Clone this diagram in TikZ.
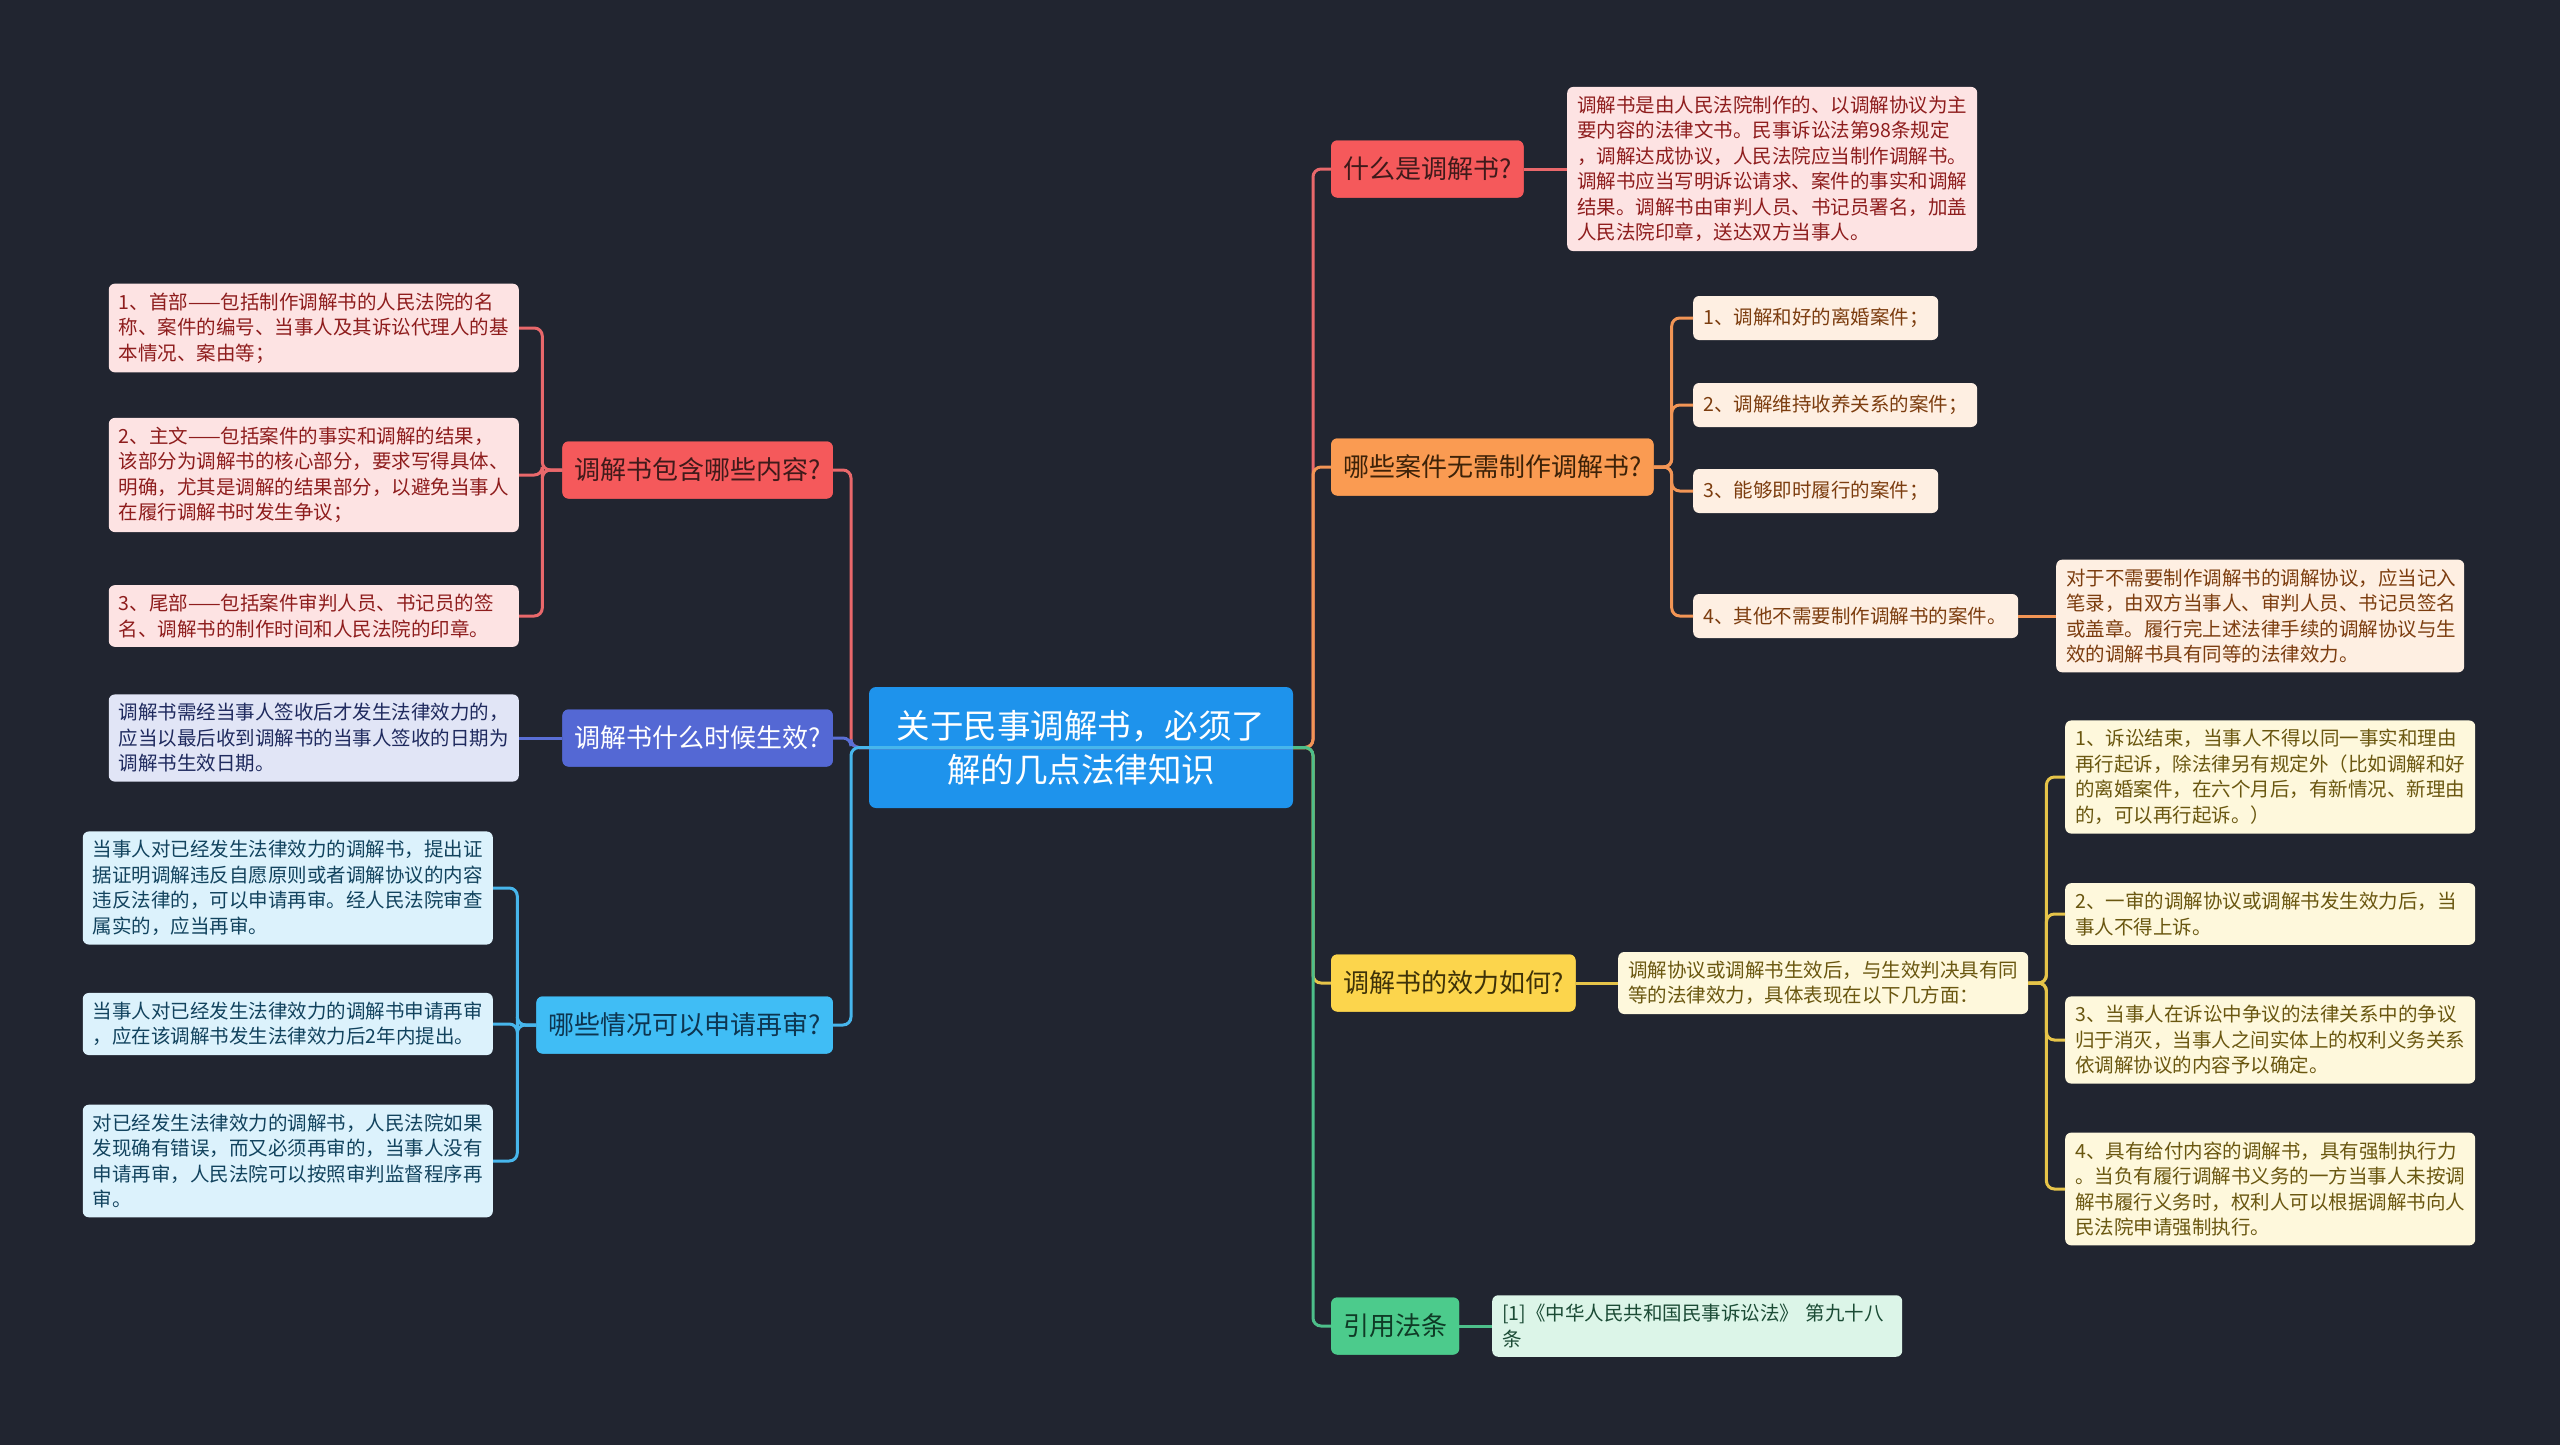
\documentclass[tikz,border=0pt]{standalone}
\usepackage{fontspec}
\setmainfont{Noto Sans CJK SC}
\definecolor{bgc}{HTML}{212530}
\definecolor{rootF}{HTML}{1E93EC}
\definecolor{redF}{HTML}{F5595B}
\definecolor{redT}{HTML}{3F1A1A}
\definecolor{redL}{HTML}{FDE3E3}
\definecolor{redD}{HTML}{8E1D1D}
\definecolor{redLn}{HTML}{E9686B}
\definecolor{orF}{HTML}{FA9B52}
\definecolor{orT}{HTML}{3D2208}
\definecolor{orL}{HTML}{FEEFE2}
\definecolor{orD}{HTML}{7C3D0F}
\definecolor{orLn}{HTML}{F29555}
\definecolor{yeF}{HTML}{FCD54C}
\definecolor{yeT}{HTML}{3E3208}
\definecolor{yeL}{HTML}{FEF8DC}
\definecolor{yeD}{HTML}{6A5710}
\definecolor{yeLn}{HTML}{E6C449}
\definecolor{grF}{HTML}{4CCB8C}
\definecolor{grT}{HTML}{0F3B26}
\definecolor{grL}{HTML}{DCF5E8}
\definecolor{grD}{HTML}{1B4B35}
\definecolor{grLn}{HTML}{4DBF8A}
\definecolor{puF}{HTML}{5468D4}
\definecolor{puL}{HTML}{E1E5F6}
\definecolor{puD}{HTML}{1F2A5E}
\definecolor{puLn}{HTML}{5A6FD6}
\definecolor{lbF}{HTML}{40BDF5}
\definecolor{lbT}{HTML}{0D3550}
\definecolor{lbL}{HTML}{DCF2FC}
\definecolor{lbD}{HTML}{12435E}
\definecolor{lbLn}{HTML}{47B6EC}
\begin{document}
\begin{tikzpicture}[x=1pt,y=-1pt,
  conn/.style={line width=3pt, rounded corners=8pt},
  leaf/.style={rounded corners=6pt, inner xsep=10pt, inner ysep=9pt,
    font=\fontsize{19.5}{25.5}\selectfont, text width=#1, align=left},
  leaf/.default=390pt,
  short/.style={leaf=#1, minimum height=44pt},
  main/.style={rounded corners=6pt, inner xsep=12pt, minimum height=57pt,
    font=\fontsize{26}{30}\selectfont},
  rootbox/.style={rounded corners=7pt, fill=rootF, text=white, text width=400pt,
    align=center, minimum width=424pt, minimum height=121pt,
    font=\fontsize{33.5}{44}\selectfont},
]
\fill[bgc] (0,0) rectangle (2560,1445);
\useasboundingbox (0,0) rectangle (2560,1445);

% root
\node[rootbox] (root) at (1081,747.5) {关于民事调解书，必须了\\解的几点法律知识};

% right level 1
\node[main, fill=redF, text=redT, anchor=west] (r1) at (1331,169) {什么是调解书?};
\node[main, fill=orF, text=orT, anchor=west] (r2) at (1331,467) {哪些案件无需制作调解书?};
\node[main, fill=yeF, text=yeT, anchor=west] (r3) at (1331,983) {调解书的效力如何?};
\node[main, fill=grF, text=grT, anchor=west] (r4) at (1331,1326) {引用法条};

% left level 1
\node[main, fill=redF, text=redT, anchor=east] (l1) at (833,470) {调解书包含哪些内容?};
\node[main, fill=puF, text=white, anchor=east] (l2) at (833,738) {调解书什么时候生效?};
\node[main, fill=lbF, text=lbT, anchor=east] (l3) at (833,1025) {哪些情况可以申请再审?};

\coordinate (rs) at (1313,747.5);
\coordinate (ls) at (851,747.5);

% connectors from root
\draw[conn, redLn] (root.east) -- (ls) |- (l1.east);
\draw[conn, puLn] (root.east) -- (ls) |- (l2.east);
\draw[conn, lbLn] (root.east) -- (ls) |- (l3.east);
\draw[conn, redLn] (root.east) -- (rs) |- (r1.west);
\draw[conn, orLn] (root.east) -- (rs) |- (r2.west);
\draw[conn, yeLn] (root.east) -- (rs) |- (r3.west);
\draw[conn, grLn] (root.east) -- (rs) |- (r4.west);

% redraw level 1 nodes on top of connector ends
\node[main, fill=redF, text=redT, anchor=west] at (1331,169) {什么是调解书?};
\node[main, fill=orF, text=orT, anchor=west] at (1331,467) {哪些案件无需制作调解书?};
\node[main, fill=yeF, text=yeT, anchor=west] at (1331,983) {调解书的效力如何?};
\node[main, fill=grF, text=grT, anchor=west] at (1331,1326) {引用法条};
\node[main, fill=redF, text=redT, anchor=east] at (833,470) {调解书包含哪些内容?};
\node[main, fill=puF, text=white, anchor=east] at (833,738) {调解书什么时候生效?};
\node[main, fill=lbF, text=lbT, anchor=east] at (833,1025) {哪些情况可以申请再审?};

% right leaves
\node[leaf, fill=redL, text=redD, anchor=west] (r1a) at (1567,169) {调解书是由人民法院制作的、以调解协议为主\\要内容的法律文书。民事诉讼法第98条规定\\，调解达成协议，人民法院应当制作调解书。\\调解书应当写明诉讼请求、案件的事实和调解\\结果。调解书由审判人员、书记员署名，加盖\\人民法院印章，送达双方当事人。};

\node[short=225pt, fill=orL, text=orD, anchor=west] (r2a) at (1693,318) {1、调解和好的离婚案件；};
\node[short=264pt, fill=orL, text=orD, anchor=west] (r2b) at (1693,405) {2、调解维持收养关系的案件；};
\node[short=225pt, fill=orL, text=orD, anchor=west] (r2c) at (1693,491) {3、能够即时履行的案件；};
\node[short=305pt, fill=orL, text=orD, anchor=west] (r2d) at (1693,616) {4、其他不需要制作调解书的案件。};
\node[leaf=388pt, fill=orL, text=orD, anchor=west] (r2e) at (2056,616) {对于不需要制作调解书的调解协议，应当记入\\笔录，由双方当事人、审判人员、书记员签名\\或盖章。履行完上述法律手续的调解协议与生\\效的调解书具有同等的法律效力。};

\node[leaf, fill=yeL, text=yeD, anchor=west] (r3m) at (1618,983) {调解协议或调解书生效后，与生效判决具有同\\等的法律效力，具体表现在以下几方面：};
\node[leaf, fill=yeL, text=yeD, anchor=west] (r3a) at (2065,777) {1、诉讼结束，当事人不得以同一事实和理由\\再行起诉，除法律另有规定外（比如调解和好\\的离婚案件，在六个月后，有新情况、新理由\\的，可以再行起诉。）};
\node[leaf, fill=yeL, text=yeD, anchor=west] (r3b) at (2065,914) {2、一审的调解协议或调解书发生效力后，当\\事人不得上诉。};
\node[leaf, fill=yeL, text=yeD, anchor=west] (r3c) at (2065,1040) {3、当事人在诉讼中争议的法律关系中的争议\\归于消灭，当事人之间实体上的权利义务关系\\依调解协议的内容予以确定。};
\node[leaf, fill=yeL, text=yeD, anchor=west] (r3d) at (2065,1189) {4、具有给付内容的调解书，具有强制执行力\\。当负有履行调解书义务的一方当事人未按调\\解书履行义务时，权利人可以根据调解书向人\\民法院申请强制执行。};

\node[leaf, fill=grL, text=grD, anchor=west] (r4a) at (1492,1326) {[1]《中华人民共和国民事诉讼法》 第九十八\\条};

% left leaves
\node[leaf, fill=redL, text=redD, anchor=east] (l1a) at (519,328) {1、首部——包括制作调解书的人民法院的名\\称、案件的编号、当事人及其诉讼代理人的基\\本情况、案由等；};
\node[leaf, fill=redL, text=redD, anchor=east] (l1b) at (519,475) {2、主文——包括案件的事实和调解的结果，\\该部分为调解书的核心部分，要求写得具体、\\明确，尤其是调解的结果部分，以避免当事人\\在履行调解书时发生争议；};
\node[leaf, fill=redL, text=redD, anchor=east] (l1c) at (519,616) {3、尾部——包括案件审判人员、书记员的签\\名、调解书的制作时间和人民法院的印章。};

\node[leaf, fill=puL, text=puD, anchor=east] (l2a) at (519,738) {调解书需经当事人签收后才发生法律效力的，\\应当以最后收到调解书的当事人签收的日期为\\调解书生效日期。};

\node[leaf, fill=lbL, text=lbD, anchor=east] (l3a) at (493,888) {当事人对已经发生法律效力的调解书，提出证\\据证明调解违反自愿原则或者调解协议的内容\\违反法律的，可以申请再审。经人民法院审查\\属实的，应当再审。};
\node[leaf, fill=lbL, text=lbD, anchor=east] (l3b) at (493,1024) {当事人对已经发生法律效力的调解书申请再审\\，应在该调解书发生法律效力后2年内提出。};
\node[leaf, fill=lbL, text=lbD, anchor=east] (l3c) at (493,1161) {对已经发生法律效力的调解书，人民法院如果\\发现确有错误，而又必须再审的，当事人没有\\申请再审，人民法院可以按照审判监督程序再\\审。};

% level 2 connectors
\draw[conn, redLn] (r1.east) -- (r1a.west);
\draw[conn, orLn] (r2.east) -- ++(18,0) |- (r2a.west);
\draw[conn, orLn] (r2.east) -- ++(18,0) |- (r2b.west);
\draw[conn, orLn] (r2.east) -- ++(18,0) |- (r2c.west);
\draw[conn, orLn] (r2.east) -- ++(18,0) |- (r2d.west);
\draw[conn, orLn] (r2d.east) -- (r2e.west);
\draw[conn, yeLn] (r3.east) -- (r3m.west);
\draw[conn, yeLn] (r3m.east) -- ++(18,0) |- (r3a.west);
\draw[conn, yeLn] (r3m.east) -- ++(18,0) |- (r3b.west);
\draw[conn, yeLn] (r3m.east) -- ++(18,0) |- (r3c.west);
\draw[conn, yeLn] (r3m.east) -- ++(18,0) |- (r3d.west);
\draw[conn, grLn] (r4.east) -- (r4a.west);

\draw[conn, redLn] (l1.west) -- ++(-20,0) |- (l1a.east);
\draw[conn, redLn] (l1.west) -- ++(-20,0) |- (l1b.east);
\draw[conn, redLn] (l1.west) -- ++(-20,0) |- (l1c.east);
\draw[conn, puLn] (l2.west) -- (l2a.east);
\draw[conn, lbLn] (l3.west) -- ++(-19,0) |- (l3a.east);
\draw[conn, lbLn] (l3.west) -- ++(-19,0) |- (l3b.east);
\draw[conn, lbLn] (l3.west) -- ++(-19,0) |- (l3c.east);
\end{tikzpicture}
\end{document}
